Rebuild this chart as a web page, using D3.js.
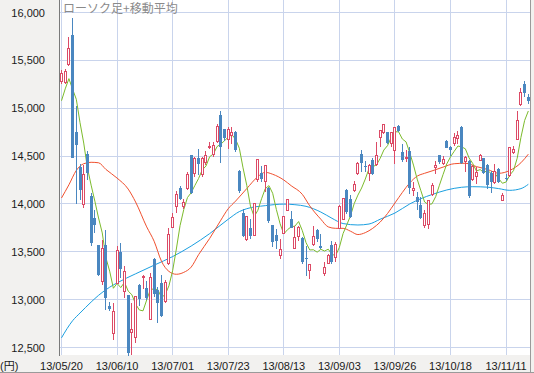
<!DOCTYPE html>
<html><head><meta charset="utf-8">
<script src="https://cdn.jsdelivr.net/npm/d3@7"></script>
<style>html,body{margin:0;padding:0;background:#f2f1ef;} svg{display:block;}</style>
</head><body>
<svg id="c" width="534" height="373"></svg>
<script>
// ---- data ----
const title = "ローソク足+移動平均";
const unitLabel = "(円)";
const tickIdx = [0, 15, 30, 45, 60, 75, 90, 105, 120];
const tickLabels = ["13/05/20","13/06/10","13/07/01","13/07/23","13/08/13","13/09/03","13/09/26","13/10/18","13/11/11"];
const yTicks = [12500, 13000, 13500, 14000, 14500, 15000, 15500, 16000];

const open = [15280,15270,15460,15770,14750,14390,13990,14525,14086,13850,
13570,13190,13574,12930,12646,13170,13497,13086,13044,12660,
12600,13150,13230,13120,12790,13424,13100,13173,12980,13382,
13758,13975,14166,13975,14166,14515,14316,14480,14306,14435,
14590,14515,14654,14933,14783,14672,14720,14748,14348,13901,
13633,13748,13668,14260,14323,14236,14170,13783,13678,13459,
13692,13936,13842,13535,13657,13640,13434,13309,13574,13727,
13560,13274,13378,13570,13441,13748,13842,14150,14050,14139,
14320,14522,14395,14320,14460,14411,14690,14742,14749,14627,
14557,14819,14540,14470,14555,14140,14070,13990,13770,13790,
14097,14383,14515,14425,14655,14600,14627,14679,14808,14446,
14449,14257,14290,14456,14477,14407,14327,14223,14362,14031,
14275,14292,14536,14669,15042,15258,15115];

const high = [15400,15410,15740,15943,15020,14420,14410,14550,14114,13940,
13575,13626,13724,12975,12970,13560,13591,13347,13050,12963,
13040,13160,13260,13190,13280,13440,13130,13260,13207,13750,
13905,14130,14184,14052,14330,14515,14490,14574,14490,14550,
14645,14645,14840,14975,14785,14804,14801,14760,14350,13945,
13870,13842,14010,14470,14400,14410,14180,13783,13737,13633,
13870,14051,13930,13772,13770,13650,13563,13370,13772,13737,
13690,13390,13476,13615,13598,13990,14062,14156,14097,14243,
14435,14564,14450,14418,14480,14644,14773,14835,14749,14742,
14808,14829,14627,14560,14590,14225,14120,14069,13940,14045,
14215,14453,14515,14505,14669,14610,14738,14759,14819,14505,
14460,14407,14386,14526,14484,14414,14345,14414,14372,14118,
14310,14596,14606,14972,15216,15286,15150];

const low = [15250,15250,15440,14484,14000,14040,13960,14254,13556,13696,
13250,13150,12897,12880,12577,13160,13225,13016,12406,12423,
12545,12930,13110,12998,12790,13030,12760,12820,12960,13365,
13750,13905,14044,13947,14150,14105,14280,14306,14280,14410,
14575,14490,14637,14428,14660,14574,14627,14540,14110,13650,
13615,13633,13660,14225,14225,14121,13800,13546,13528,13424,
13685,13930,13745,13530,13615,13372,13250,13215,13563,13598,
13530,13250,13370,13372,13390,13738,13832,13900,13850,14121,
14306,14330,14330,14244,14306,14400,14592,14732,14627,14592,
14418,14750,14435,14440,14100,14087,13937,13843,13750,13738,
14087,14313,14418,14411,14585,14505,14610,14627,14418,14330,
14060,14240,14205,14450,14310,14153,14118,14205,14223,14031,
14240,14282,14519,14665,15025,15112,15040];

const close = [15360,15381,15627,14484,14612,14143,14312,14326,13589,13775,
13262,13534,13015,12904,12878,13514,13318,13289,12445,12687,
13033,13007,13245,13015,13230,13063,12969,12834,13180,13677,
13853,14099,14055,14019,14310,14109,14473,14417,14473,14506,
14599,14615,14809,14590,14690,14779,14750,14563,14130,13661,
13870,13668,14006,14466,14258,14401,13825,13606,13615,13519,
13867,14050,13753,13650,13758,13396,13424,13365,13661,13636,
13542,13338,13459,13389,13573,13978,14054,13915,13861,14205,
14423,14425,14387,14405,14312,14505,14766,14829,14634,14742,
14799,14760,14456,14485,14170,14160,14024,13853,13895,14038,
14195,14405,14441,14467,14587,14562,14694,14713,14426,14486,
14088,14396,14325,14502,14328,14202,14225,14337,14228,14087,
14270,14589,14567,14876,15166,15164,15080];

// 5-day moving average (green), read per candle
const ma5 = [15078,15202,15309,15198,15093,14849,14636,14375,14196,14029,
13853,13697,13435,13298,13119,13169,13126,13181,13089,13051,
12954,12892,12883,12997,13106,13112,13104,13022,13055,13145,
13303,13529,13773,13941,14067,14118,14193,14266,14356,14396,
14494,14522,14600,14624,14661,14697,14724,14674,14582,14377,
14195,13978,13867,13934,14054,14160,14191,14111,13941,13793,
13686,13731,13761,13768,13816,13721,13596,13519,13521,13496,
13526,13508,13527,13473,13460,13547,13691,13782,13876,14003,
14092,14166,14260,14369,14390,14407,14475,14563,14609,14695,
14754,14753,14678,14648,14534,14406,14259,14138,14020,13994,
14001,14077,14195,14309,14419,14492,14550,14605,14596,14576,
14481,14422,14344,14359,14328,14351,14316,14319,14264,14216,
14229,14302,14348,14478,14694,14872,14971];

// 25-day moving average (red), read at these candle positions
const ma25Idx = [0,2,4,6,8,10,12,15,18,20,23,25,27,29,31,33,35,37,40,43,45,47,50,53,55,57,60,62,65,67,70,72,74,76,78,80,82,84,86,88,90,92,94,96,98,100,103,106,109,112,115,118,121,124,126];
const ma25 = [14062,14200,14350,14420,14435,14430,14360,14270,14155,14020,13760,13610,13400,13295,13265,13285,13340,13470,13640,13830,13950,14030,14160,14285,14330,14310,14250,14190,14100,13980,13840,13760,13745,13745,13715,13680,13700,13745,13810,13900,14010,14120,14220,14290,14320,14345,14385,14420,14425,14390,14360,14320,14350,14430,14520];

// 75-day moving average (blue), read at these candle positions
const ma75Idx = [0,3,5,8,10,13,15,20,25,30,35,40,45,48,50,55,60,63,66,70,73,76,80,83,86,90,94,97,100,104,108,111,115,118,121,124,126];
const ma75 = [12601,12780,12860,12975,13045,13130,13175,13270,13360,13450,13560,13690,13840,13920,13950,13982,13998,13992,13975,13915,13850,13795,13780,13790,13840,13905,14000,14055,14098,14146,14174,14180,14175,14160,14142,14160,14205];

// ---- drawing ----
const W = 534, H = 373;
const PL = 60, PR = 530, PT = 0, PB = 355;
const svg = d3.select("#c");

const x = d3.scaleLinear().domain([0, 120]).range([61.5, 506.1]);
const y = d3.scaleLinear().domain([12500, 16000]).range([347.5, 12.5]);
const px = v => Math.floor(v) + 0.5;

svg.append("rect").attr("x",0).attr("y",0).attr("width",W).attr("height",H).attr("fill","#f2f1ef");
svg.append("rect").attr("x",PL).attr("y",PT).attr("width",PR-PL).attr("height",PB-PT).attr("fill","#ffffff");

const grid = svg.append("g").attr("stroke","#c9d4ec").attr("stroke-width",1).attr("shape-rendering","crispEdges");
grid.selectAll("line.h").data(yTicks).join("line").attr("class","h")
  .attr("x1",PL).attr("x2",PR).attr("y1",d=>px(y(d))).attr("y2",d=>px(y(d)));
grid.selectAll("line.v").data(tickIdx).join("line").attr("class","v")
  .attr("x1",d=>px(x(d))).attr("x2",d=>px(x(d))).attr("y1",PT).attr("y2",PB);

// frame
svg.append("line").attr("x1",59.5).attr("x2",59.5).attr("y1",0).attr("y2",PB+1).attr("stroke","#7a7a7a");
svg.append("line").attr("x1",530.5).attr("x2",530.5).attr("y1",0).attr("y2",H).attr("stroke","#9a9a9a");
svg.append("line").attr("x1",0).attr("x2",W).attr("y1",372.5).attr("y2",372.5).attr("stroke","#9a9a9a");

// y labels
svg.append("g").selectAll("text").data(yTicks).join("text")
  .attr("x",45).attr("y",d=>y(d)+4).attr("text-anchor","end")
  .attr("font-family","'Liberation Sans', Arial, sans-serif").attr("font-size","11px").attr("fill","#1a1a1a")
  .text(d=>d3.format(",")(d));

// x labels
svg.append("g").selectAll("text").data(tickIdx).join("text")
  .attr("x",(d)=>x(d)).attr("y",369.5).attr("text-anchor","middle")
  .attr("font-family","'Liberation Sans', Arial, sans-serif").attr("font-size","11px").attr("fill","#1a1a1a")
  .text((d,i)=>tickLabels[i]);
svg.append("text").attr("x",0).attr("y",369.5)
  .attr("font-family","'Liberation Sans', 'Noto Sans CJK JP', sans-serif").attr("font-size","11px").attr("fill","#1a1a1a")
  .text(unitLabel);

// moving averages
const plotG = svg.append("g");
const line = d3.line().x(d=>x(d[0])).y(d=>y(d[1]));
plotG.append("path").datum(ma75Idx.map((d,i)=>[d,ma75[i]]))
  .attr("d", line.curve(d3.curveMonotoneX)).attr("fill","none").attr("stroke","#1a9fe0").attr("stroke-width",1);
plotG.append("path").datum(ma25Idx.map((d,i)=>[d,ma25[i]]))
  .attr("d", line.curve(d3.curveMonotoneX)).attr("fill","none").attr("stroke","#f0502e").attr("stroke-width",1);
plotG.append("path").datum(ma5.map((v,i)=>[i,v]))
  .attr("d", line.curve(d3.curveLinear)).attr("fill","none").attr("stroke","#7cbb2c").attr("stroke-width",1);

// candles
const candles = open.map((o,i)=>({i, o, h:high[i], l:low[i], c:close[i]}));
const cg = plotG.append("g").attr("shape-rendering","crispEdges");
const RED = "#dc4a66", BLUE = "#4a87c0";
cg.selectAll("line").data(candles).join("line")
  .attr("x1",d=>px(x(d.i))).attr("x2",d=>px(x(d.i)))
  .attr("y1",d=>y(d.h)).attr("y2",d=>y(d.l))
  .attr("stroke",d=>d.c>=d.o?RED:BLUE).attr("stroke-width",1);
cg.selectAll("rect").data(candles).join("rect")
  .attr("x",d=> d.c>=d.o ? Math.floor(x(d.i))-0.5 : Math.floor(x(d.i))-1)
  .attr("width",d=> d.c>=d.o ? 2 : 3)
  .attr("y",d=>y(Math.max(d.o,d.c)))
  .attr("height",d=>Math.max(1, Math.abs(y(d.o)-y(d.c))))
  .attr("fill",d=>d.c>=d.o?"#ffffff":BLUE)
  .attr("stroke",d=>d.c>=d.o?RED:"none").attr("stroke-width",1);

// title
svg.append("text").attr("x",63).attr("y",12.5)
  .attr("font-family","'Noto Sans CJK JP', sans-serif").attr("font-size","12px").attr("fill","#8a8a8a")
  .text(title);
</script>
</body></html>
